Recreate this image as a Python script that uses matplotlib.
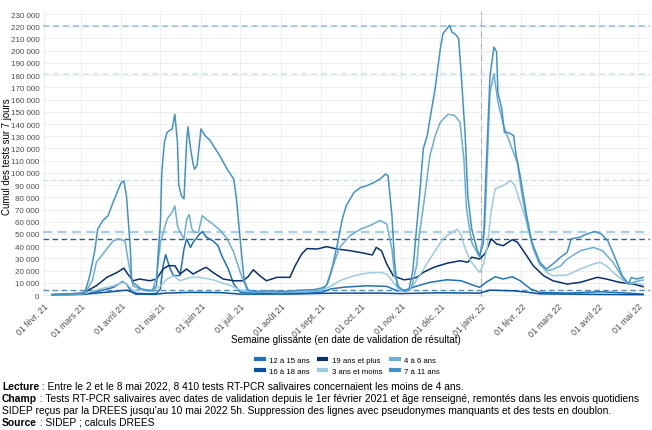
import matplotlib
matplotlib.use('Agg')
import matplotlib.pyplot as plt
import matplotlib.ticker as mticker
from matplotlib.lines import Line2D
import pandas as pd

plt.rcParams['font.family'] = ['Liberation Sans', 'DejaVu Sans']

start = pd.Timestamp('2021-02-01')

# jours depuis le 1er fevrier 2021 / cumul des tests sur 7 jours
j_0711 = [6, 20, 29, 31, 35, 39, 41, 45, 49, 53, 57, 59, 61, 63, 66, 67, 69, 71, 74, 79, 83, 86, 87, 89, 90, 92, 94, 96,
          98, 100, 102, 103, 105, 107, 109, 110, 112, 114, 115, 117, 120, 123, 127, 131, 135, 140, 145, 147, 150, 153,
          156, 161, 173, 184, 196, 207, 213, 216, 220, 224, 228, 231, 237, 242, 247, 252, 257, 261, 263, 266, 268, 270,
          275, 279, 282, 284, 287, 290, 293, 296, 299, 303, 305, 308, 310, 312, 314, 317, 319, 322, 324, 327, 331, 333,
          336, 338, 341, 344, 346, 347, 350, 352, 355, 359, 361, 364, 369, 373, 379, 384, 389, 395, 400, 403, 410, 415,
          421, 426, 431, 437, 442, 447, 449, 453, 458]
v_0711 = [500, 800, 1200, 1500, 15800, 37700, 54000, 61000, 65000, 76500, 87000, 92000, 93500, 81400, 37700, 12000,
          9000, 8000, 5000, 3500, 3500, 8000, 30000, 60000, 100000, 125000, 133000, 134700, 136000, 148000, 125000,
          90000, 81400, 78700, 125000, 137700, 119700, 107400, 103000, 106000, 136000, 130600, 126500, 119700, 112800,
          103000, 95000, 80000, 45000, 12000, 4000, 3000, 3500, 3000, 4000, 4500, 6000, 8000, 21000, 40000, 62000,
          73000, 84000, 88000, 89600, 92000, 95000, 99000, 97800, 65000, 26800, 7600, 3500, 4500, 20000, 45000, 80000,
          120000, 130600, 150000, 169000, 201600, 214000, 218000, 220700, 215000, 214000, 210000, 180000, 130600,
          81400, 54000, 37700, 32000, 43000, 103000, 180000, 203000, 199000, 166000, 152000, 133000, 133000, 130600,
          114000, 97800, 65000, 43000, 26800, 21300, 25400, 31000, 35000, 46000, 47400, 50000, 52000, 50000, 44500,
          29500, 15800, 9000, 14500, 13100, 14500]

j_0406 = [6, 29, 32, 37, 40, 48, 53, 57, 60, 62, 64, 66, 68, 73, 83, 86, 89, 94, 98, 100, 102, 104, 107, 109, 111, 113,
          115, 118, 121, 124, 129, 135, 140, 145, 150, 155, 159, 180, 203, 213, 217, 221, 226, 234, 242, 249, 257, 262,
          266, 268, 272, 277, 281, 285, 287, 291, 295, 299, 303, 309, 314, 318, 321, 323, 327, 331, 333, 337, 341, 344,
          347, 351, 356, 362, 365, 370, 374, 379, 385, 389, 395, 400, 410, 420, 427, 435, 443, 447, 452, 458]
v_0406 = [300, 1000, 3000, 12000, 26800, 37700, 44500, 46000, 45000, 44000, 30000, 18600, 7600, 5000, 4000, 15000,
          43200, 62000, 68000, 73000, 56800, 51400, 46000, 62000, 66000, 54000, 51400, 51400, 65000, 62000, 58200,
          52700, 46000, 35000, 18600, 5000, 2500, 2000, 2500, 4000, 10000, 24000, 39000, 48600, 54000, 56800, 61000,
          58200, 37700, 15800, 5000, 3000, 6000, 25000, 50000, 80000, 114000, 130000, 141500, 148000, 147000, 141500,
          111500, 70500, 43000, 35000, 31000, 56800, 166000, 181000, 158000, 140000, 125000, 108000, 85000, 55000,
          38000, 25000, 20000, 21000, 24000, 29500, 36300, 39000, 36300, 26800, 13100, 9000, 11000, 12300]

j_0003 = [6, 29, 35, 43, 53, 58, 61, 63, 66, 68, 73, 83, 89, 94, 99, 104, 112, 119, 129, 135, 142, 148, 154, 165, 196,
          211, 219, 226, 237, 247, 257, 262, 267, 272, 276, 282, 287, 295, 305, 310, 316, 319, 322, 326, 333, 336, 339,
          342, 345, 351, 357, 360, 364, 369, 374, 379, 384, 389, 400, 410, 420, 425, 430, 435, 443, 447, 451, 458]
v_0003 = [200, 800, 2500, 5000, 7600, 9500, 10400, 9000, 6300, 3500, 4500, 3500, 7600, 13100, 15800, 11700, 14500,
          14500, 12500, 10400, 8000, 5000, 3000, 2500, 3000, 4000, 7000, 11700, 15800, 18000, 18600, 17200, 10400,
          3500, 3000, 7600, 15800, 29500, 46000, 50000, 54000, 48600, 38000, 28000, 18600, 25000, 40000, 70000, 87000,
          89600, 93700, 89600, 76000, 59500, 40400, 26800, 18600, 15800, 16400, 21300, 25400, 26800, 24000, 18600,
          11700, 9000, 10000, 8410]

j_1215 = [6, 29, 35, 43, 53, 57, 60, 63, 66, 70, 81, 86, 89, 91, 93, 96, 99, 104, 107, 109, 112, 114, 119, 121, 124,
          129, 133, 136, 141, 145, 150, 165, 196, 213, 219, 230, 247, 262, 270, 276, 284, 295, 308, 319, 327, 333, 338,
          345, 351, 358, 364, 372, 379, 400, 425, 440, 458]
v_1215 = [200, 800, 2000, 3500, 6300, 9000, 11000, 9000, 4000, 1500, 1000, 1500, 5000, 24000, 33000, 22700, 15800,
          16000, 37700, 46000, 39000, 43200, 50000, 52000, 47400, 44500, 40400, 32000, 21000, 9000, 2500, 1500, 1500,
          2500, 5000, 6500, 7600, 7100, 3500, 4000, 7000, 10400, 12500, 11700, 8500, 6300, 10400, 15000, 13100, 15000,
          11700, 5000, 2200, 1600, 2700, 2000, 800]

j_1618 = [6, 29, 39, 50, 58, 63, 66, 70, 85, 92, 112, 135, 150, 188, 219, 257, 272, 302, 333, 341, 358, 368, 379,
          425, 458]
v_1618 = [100, 500, 1500, 2500, 3500, 4000, 3000, 800, 600, 1500, 2200, 2000, 800, 800, 1500, 1600, 1200, 1800, 1600,
          4000, 3500, 2500, 1000, 500, 300]

j_19p = [6, 29, 33, 40, 48, 56, 61, 64, 68, 73, 81, 86, 91, 95, 100, 104, 109, 114, 121, 124, 129, 137, 145, 152, 156,
         160, 165, 170, 178, 188, 192, 197, 201, 209, 216, 224, 234, 244, 251, 254, 258, 262, 267, 275, 280, 285, 290,
         298, 308, 318, 324, 327, 333, 337, 342, 346, 351, 358, 362, 369, 374, 382, 389, 400, 410, 423, 430, 440, 451,
         458]
v_19p = [300, 1500, 3500, 7600, 14500, 18600, 22000, 17200, 11700, 13100, 11700, 13100, 21300, 24000, 24000, 17200,
         21300, 17200, 21300, 22700, 18600, 13100, 11700, 11700, 15000, 20700, 15800, 11700, 14500, 14500, 24000, 33600,
         38000, 37700, 39600, 37700, 36300, 34400, 32800, 39000, 36300, 25400, 15800, 12500, 13100, 14500, 18600, 22700,
         26000, 28100, 26800, 31000, 29500, 33600, 46000, 41800, 40400, 45300, 43200, 32200, 24000, 15800, 11700, 9000,
         10400, 14500, 13100, 10400, 9000, 6800]

series = [
    ('12 à 15 ans', j_1215, v_1215, '#2171b5'),
    ('16 à 18 ans', j_1618, v_1618, '#08519c'),
    ('19 ans et plus', j_19p, v_19p, '#08306b'),
    ('3 ans et moins', j_0003, v_0003, '#9ecae1'),
    ('4 à 6 ans', j_0406, v_0406, '#6baed6'),
    ('7 à 11 ans', j_0711, v_0711, '#4292c6'),
]

# maximum de chaque classe d'age (lignes pointillees)
max_vals = [220000, 181000, 94000, 52000, 46000, 4000]
max_cols = ['#4292c6', '#9ecae1', '#9ecae1', '#6baed6', '#08306b', '#2171b5']
max_alpha = [0.55, 0.5, 0.6, 0.6, 0.8, 0.8]
max_lw = [1.1, 1.1, 0.9, 1.6, 1.0, 1.0]

mois = ['01 févr. 21', '01 mars 21', '01 avril 21', '01 mai 21', '01 juin 21', '01 juil. 21', '01 août 21',
        '01 sept. 21', '01 oct. 21', '01 nov. 21', '01 déc. 21', '01 janv. 22', '01 févr. 22', '01 mars 22',
        '01 avril 22', '01 mai 22']
mois_dates = pd.date_range('2021-02-01', periods=len(mois), freq='MS')

W, H = 652, 431
fig = plt.figure(figsize=(W / 100, H / 100), dpi=100)
ax = fig.add_axes([43 / W, (H - 298) / H, (650 - 43) / W, (298 - 12) / H])

for name, days, vals, col in series:
    dates = start + pd.to_timedelta(days, unit='D')
    ax.plot(dates, vals, color=col, lw=1.1, label=name, zorder=3)

for v, c, a, lw in zip(max_vals, max_cols, max_alpha, max_lw):
    ax.axhline(v, color=c, alpha=a, lw=lw, ls=(0, (4, 2.5)), zorder=2)

ax.axvline(pd.Timestamp('2022-01-01'), color='#b0b0b0', lw=0.8, ls='-.', zorder=2)

ax.set_ylim(-1600, 232500)
ax.set_xlim(start - pd.Timedelta(days=0.8), start + pd.Timedelta(days=463.3))
ax.yaxis.set_major_locator(mticker.MultipleLocator(10000))
ax.yaxis.set_major_formatter(mticker.FuncFormatter(lambda v, p: f'{int(v):,}'.replace(',', ' ')))
ax.set_xticks(mois_dates)
ax.set_xticklabels(mois, rotation=45, ha='right', rotation_mode='anchor')
ax.tick_params(axis='both', length=0, labelcolor='#4d4d4d')
ax.tick_params(axis='y', pad=2.5, labelsize=5.8)
ax.tick_params(axis='x', pad=3, labelsize=6.2)
ax.grid(True, color='#ebebeb', lw=0.6, zorder=0)
for s in ax.spines.values():
    s.set_visible(False)

fig.text(346 / W, 1 - 340 / H, 'Semaine glissante (en date de validation de résultat)',
         ha='center', va='center', fontsize=7.1)
fig.text(7 / W, 1 - 157 / H, 'Cumul des tests sur 7 jours', rotation=90,
         ha='center', va='center', fontsize=6.9)

handles = [Line2D([], [], color=c, lw=3) for _, _, _, c in series]
labels = [n for n, _, _, _ in series]
fig.legend(handles, labels, loc='center', bbox_to_anchor=(348 / W, 1 - 366.5 / H), ncol=3, frameon=False,
           fontsize=5.6, handlelength=1.0, handletextpad=0.7, columnspacing=1.1, labelspacing=0.45)

notes = [
    ('Lecture', ' : Entre le 2 et le 8 mai 2022, 8 410 tests RT-PCR salivaires concernaient les moins de 4 ans.'),
    ('Champ', ' : Tests RT-PCR salivaires avec dates de validation depuis le 1er février 2021 et âge renseigné, '
              'remontés dans les envois quotidiens'),
    ('', "SIDEP reçus par la DREES jusqu'au 10 mai 2022 5h. Suppression des lignes avec pseudonymes manquants "
         "et des tests en doublon."),
    ('Source', ' : SIDEP ; calculs DREES'),
]
renderer = fig.canvas.get_renderer()
y0 = 387
for i, (bold, rest) in enumerate(notes):
    y = 1 - (y0 + 12 * i) / H
    x = 2 / W
    if bold:
        t = fig.text(x, y, bold, fontsize=7.35, fontweight='bold', va='center')
        x = x + t.get_window_extent(renderer).width / W
    fig.text(x, y, rest, fontsize=7.35, va='center')

fig.savefig('out.png', dpi=100)
